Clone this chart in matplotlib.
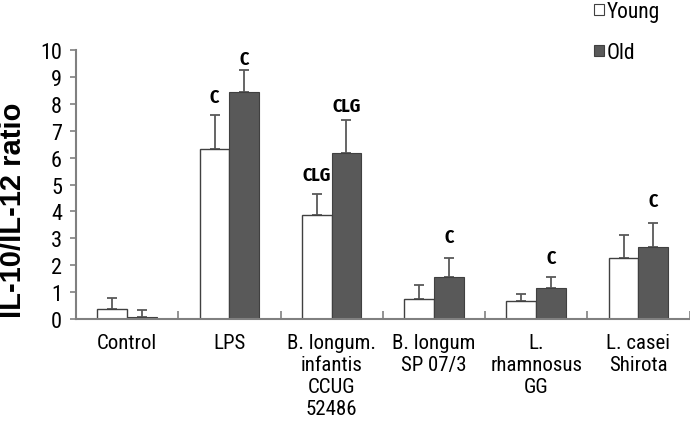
import matplotlib
matplotlib.use("Agg")
import matplotlib.pyplot as plt
from matplotlib.patches import Patch
import numpy as np

categories = ["Control", "LPS", "B. longum.\ninfantis\nCCUG\n52486", "B. longum\nSP 07/3",
              "L.\nrhamnosus\nGG", "L. casei\nShirota"]
young = [0.37, 6.32, 3.87, 0.75, 0.66, 2.27]
young_err = [0.42, 1.25, 0.78, 0.52, 0.28, 0.86]
old = [0.08, 8.45, 6.16, 1.57, 1.14, 2.69]
old_err = [0.25, 0.82, 1.25, 0.69, 0.42, 0.89]
# significance labels: (category index, series, text, y position)
sig_labels = [(1, "young", "C", 8.24), (1, "old", "C", 9.67),
              (2, "young", "CLG", 5.36), (2, "old", "CLG", 7.92),
              (3, "old", "C", 3.04), (4, "old", "C", 2.26), (5, "old", "C", 4.38)]
yticks = list(range(0, 11))
series_names = ["Young", "Old"]

FONT = ["Roboto Condensed", "Liberation Sans Narrow", "DejaVu Sans"]
SIGFONT = ["Fira Sans Condensed", "Roboto Condensed", "DejaVu Sans"]
plt.rcParams['font.family'] = FONT

fig = plt.figure(figsize=(6.9, 4.35), dpi=100)
ax = fig.add_axes([76 / 690, 115 / 435, (689.5 - 76) / 690, 269 / 435])

x = np.arange(len(categories))
w = 0.29
spine_c = "#808080"
edge_c = "#404040"
old_c = "#595959"

ax.bar(x - w / 2, young, w, color="white", edgecolor=edge_c, linewidth=1.0, zorder=2)
ax.bar(x + w / 2, old, w, color=old_c, edgecolor=edge_c, linewidth=0.8, zorder=2)
ax.errorbar(x - w / 2, young, yerr=[np.zeros(len(young)), young_err], fmt="none",
            ecolor=old_c, elinewidth=1.3, capsize=3.5, capthick=1.3, zorder=1)
ax.errorbar(x + w / 2, old, yerr=[np.zeros(len(old)), old_err], fmt="none",
            ecolor=old_c, elinewidth=1.3, capsize=3.5, capthick=1.3, zorder=1)

for i, s, t, y in sig_labels:
    xx = i - w / 2 if s == "young" else i + w / 2
    ax.text(xx, y, t, ha="center", va="center", fontsize=13, fontweight="bold",
            family=SIGFONT, color="black")

ax.set_xlim(-0.5, len(categories) - 0.5)
ax.set_ylim(0, 10)
ax.set_yticks(yticks)
ax.set_yticklabels([str(v) for v in yticks])
ax.tick_params(axis="y", direction="out", length=4, width=1.2, color=spine_c,
               labelsize=16, pad=6)

ax.set_xticks(np.arange(len(categories) + 1) - 0.5)
ax.set_xticklabels([])
ax.tick_params(axis="x", which="major", direction="in", length=5.5, width=1.2, color=spine_c)
ax.set_xticks(x, minor=True)
ax.set_xticklabels(categories, minor=True, fontsize=15, linespacing=1.2)
ax.tick_params(axis="x", which="minor", length=0, pad=10)

for s in ["top", "right"]:
    ax.spines[s].set_visible(False)
for s in ["left", "bottom"]:
    ax.spines[s].set_color(spine_c)
    ax.spines[s].set_linewidth(1.5)

ax.set_ylabel("IL-10/IL-12 ratio", fontsize=21, fontweight="bold",
              family=["Liberation Sans", "DejaVu Sans"])
ax.yaxis.set_label_coords((27 - 76) / 613.5, (320 - 210) / 269)

handles = [Patch(facecolor="white", edgecolor=edge_c, linewidth=0.8),
           Patch(facecolor=old_c, edgecolor=edge_c, linewidth=0.8)]
fig.legend(handles, series_names, loc="upper left", bbox_to_anchor=(594 / 690, 0.995),
           frameon=False, handlelength=0.45, handleheight=0.45, handletextpad=0.15,
           labelspacing=0.92, fontsize=15.5, borderaxespad=0, borderpad=0)

fig.savefig("out.png")
